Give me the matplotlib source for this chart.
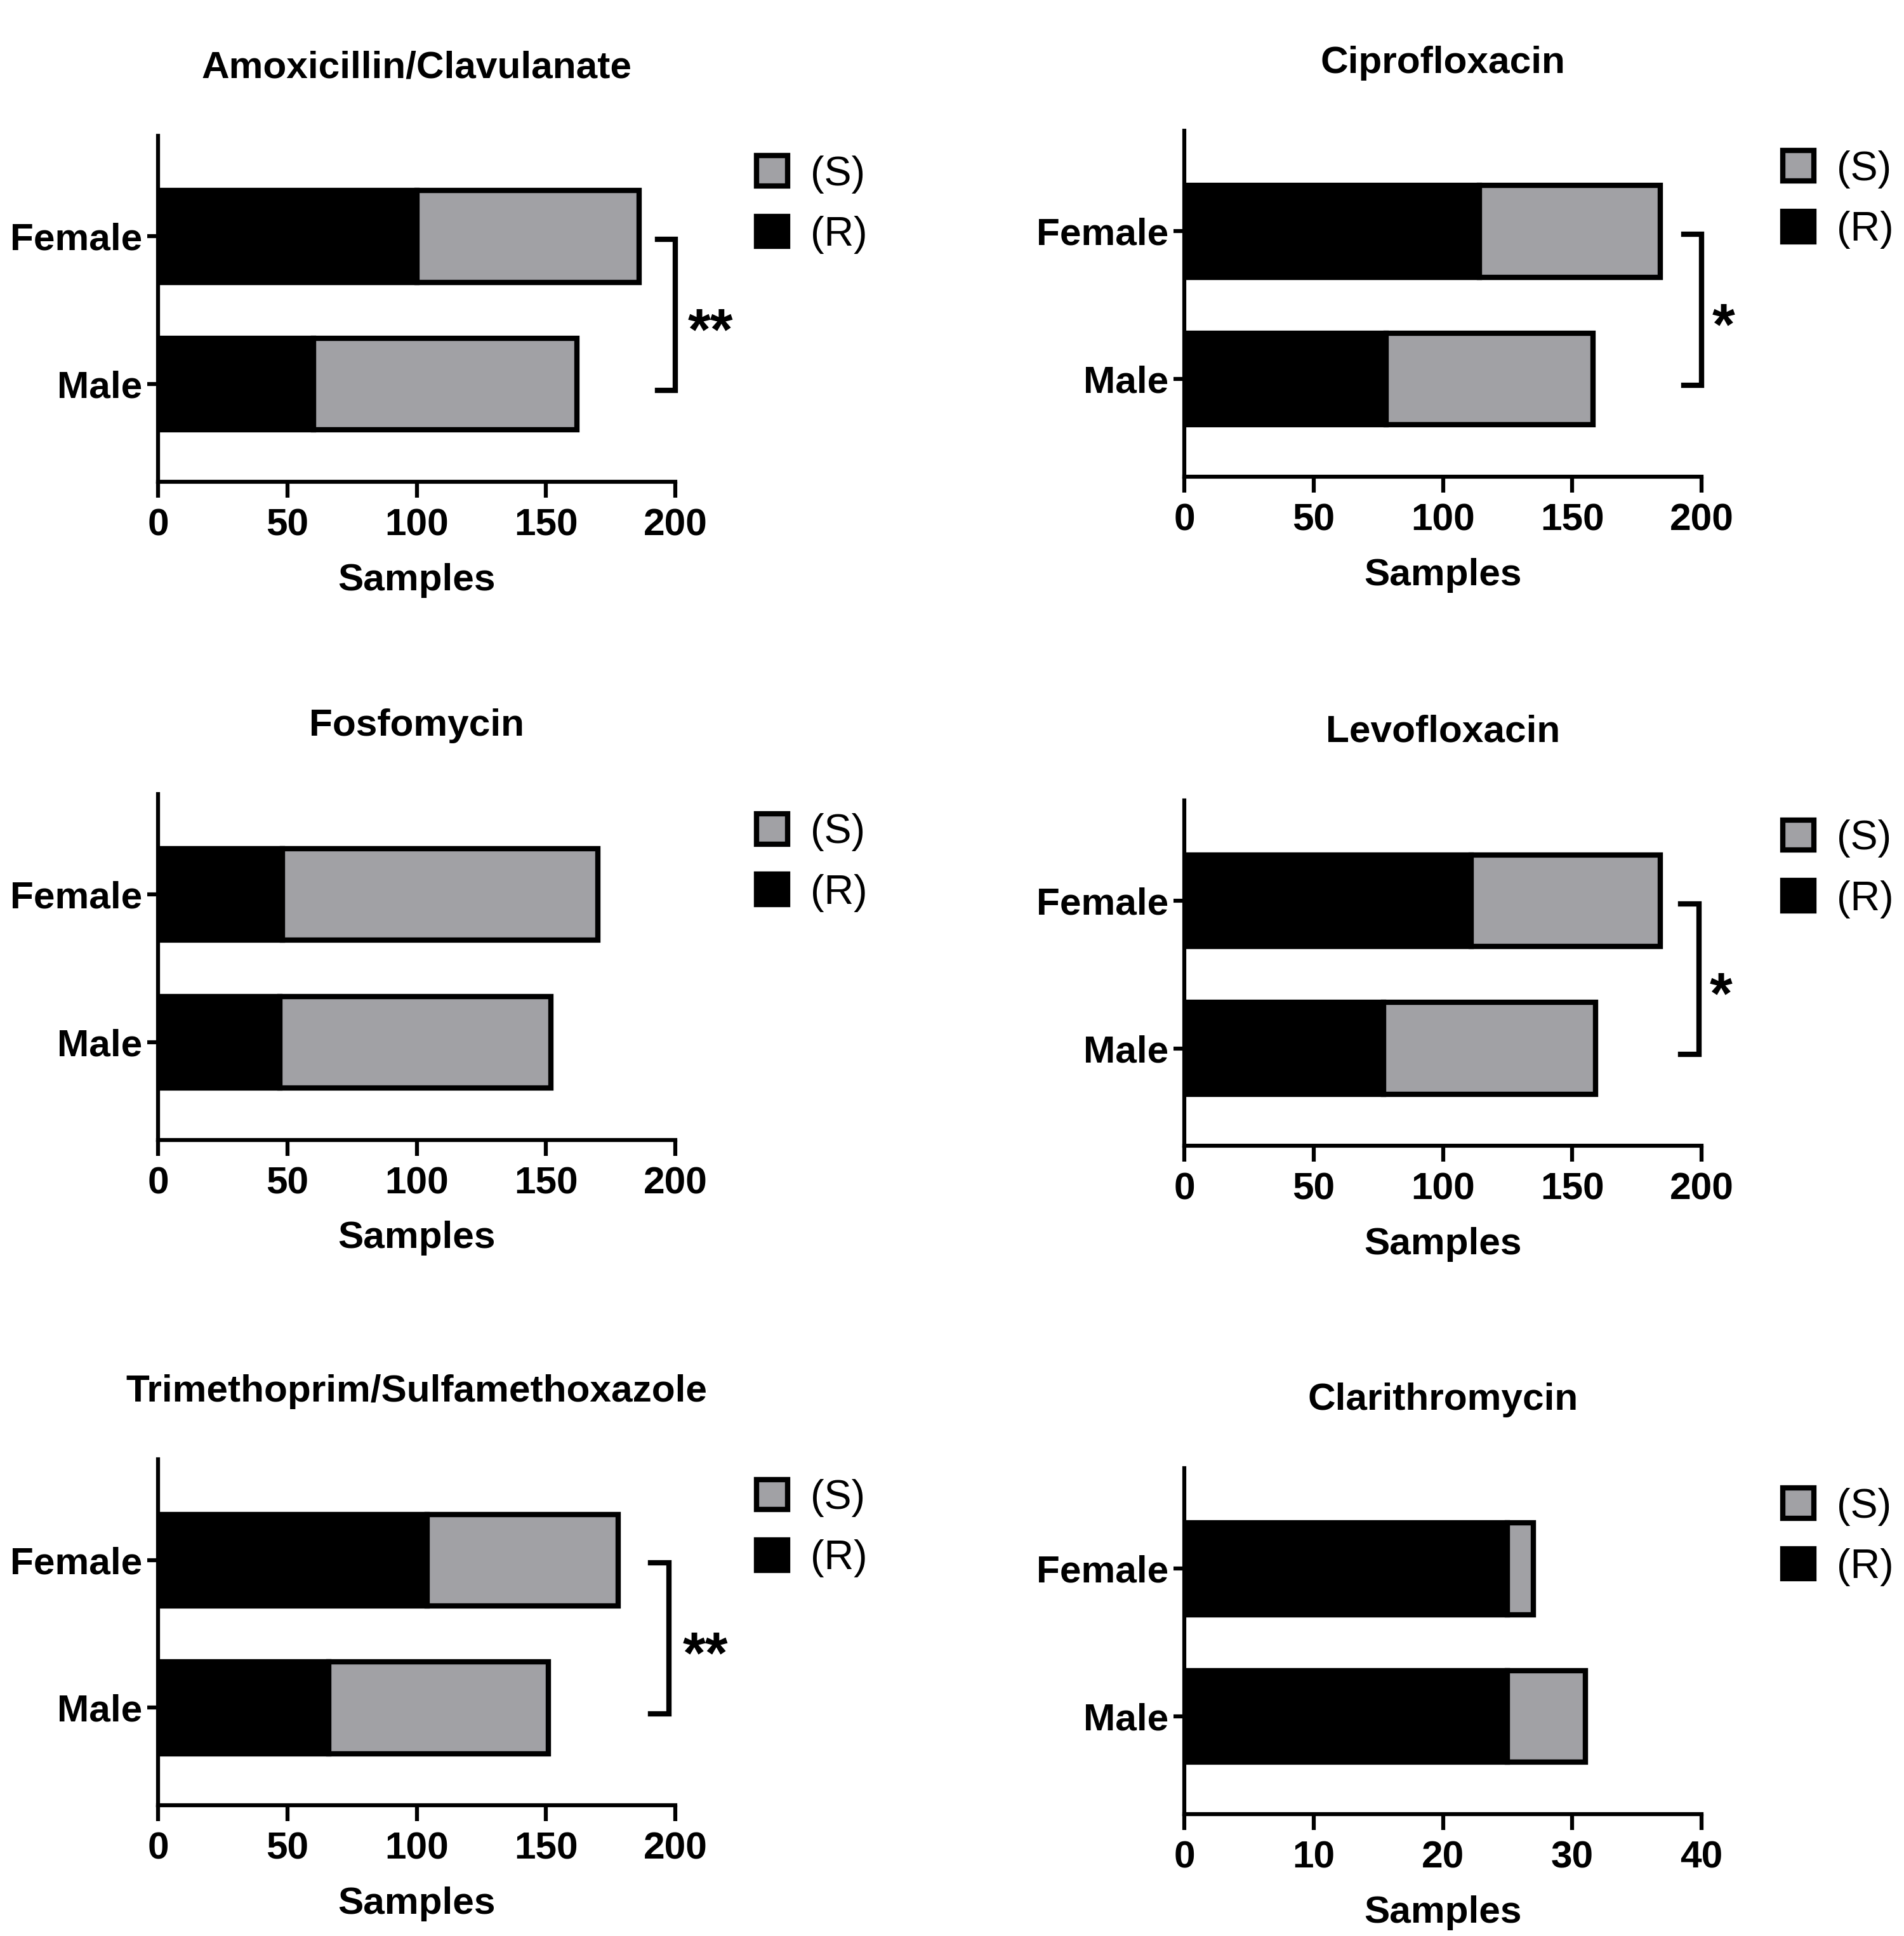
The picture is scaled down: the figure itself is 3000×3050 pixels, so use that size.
import matplotlib
matplotlib.use("Agg")
import matplotlib.pyplot as plt

plt.rcParams["font.family"] = ["Liberation Sans", "DejaVu Sans"]

antibiotics = [
    "Amoxicillin/Clavulanate",
    "Ciprofloxacin",
    "Fosfomycin",
    "Levofloxacin",
    "Trimethoprim/Sulfamethoxazole",
    "Clarithromycin",
]
groups = ["Female", "Male"]

# resistant (R) and susceptible (S) counts, order: Female, Male
resistant = [
    [100, 60],
    [114, 78],
    [48, 47],
    [111, 77],
    [104, 66],
    [25, 25],
]
susceptible = [
    [86, 102],
    [70, 80],
    [122, 105],
    [73, 82],
    [74, 85],
    [2, 6],
]
x_max = [200, 200, 200, 200, 200, 40]
x_step = [50, 50, 50, 50, 50, 10]
significance = ["**", "*", "", "*", "**", ""]

gray = "#a1a1a5"

# axes boxes in figure fractions (left, bottom, width, height)
boxes = [
    (0.083, 0.7512, 0.2717, 0.1786),
    (0.622, 0.7538, 0.2717, 0.1786),
    (0.083, 0.4113, 0.2717, 0.1786),
    (0.622, 0.4081, 0.2717, 0.1786),
    (0.083, 0.0675, 0.2717, 0.1786),
    (0.622, 0.0630, 0.2717, 0.1786),
]
bracket_x = [200, 200, None, 199, 197.5, None]
star_x = [213.5, 208.5, None, 207.5, 211.5, None]

fig = plt.figure(figsize=(10, 10.1667), dpi=300)

for i, name in enumerate(antibiotics):
    ax = fig.add_axes(boxes[i])
    y = range(len(groups))
    r_bars = ax.barh(y, resistant[i], height=0.62, color="black",
                     edgecolor="black", linewidth=2, label="(R)")
    s_bars = ax.barh(y, susceptible[i], left=resistant[i], height=0.62,
                     color=gray, edgecolor="black", linewidth=2, label="(S)")

    ax.set_xlim(0, x_max[i])
    ax.set_ylim(1.66, -0.68)
    ax.set_xticks(range(0, x_max[i] + 1, x_step[i]))
    ax.set_yticks(list(y))
    ax.set_yticklabels(groups)

    for sp in ["top", "right"]:
        ax.spines[sp].set_visible(False)
    for sp in ["left", "bottom"]:
        ax.spines[sp].set_linewidth(1.5)
    ax.tick_params(axis="x", length=6, width=1.5, pad=4)
    ax.tick_params(axis="y", length=4, width=1.5, pad=2)
    for lab in ax.get_xticklabels() + ax.get_yticklabels():
        lab.set_fontsize(14.5)
        lab.set_fontweight("bold")

    ax.set_xlabel("Samples", fontsize=14.5, fontweight="bold", labelpad=7.5)
    ax.set_title(name, fontsize=14.5, fontweight="bold", pad=22)

    ax.legend(handles=[s_bars, r_bars], loc="upper left",
              bbox_to_anchor=(1.157, 0.944), borderaxespad=0, borderpad=0,
              frameon=False, fontsize=15.5, handlelength=0.76,
              handleheight=0.76, handletextpad=0.55, labelspacing=0.55)

    if significance[i]:
        bx = bracket_x[i]
        arm = bx - 7 * x_max[i] / 200
        ax.plot([arm, bx, bx, arm], [0.02, 0.02, 1.04, 1.04], color="black",
                linewidth=2, clip_on=False, solid_joinstyle="miter")
        ax.text(star_x[i], 0.66, significance[i], fontsize=22,
                fontweight="bold", ha="center", va="center")

fig.savefig("out.png", dpi=300)
